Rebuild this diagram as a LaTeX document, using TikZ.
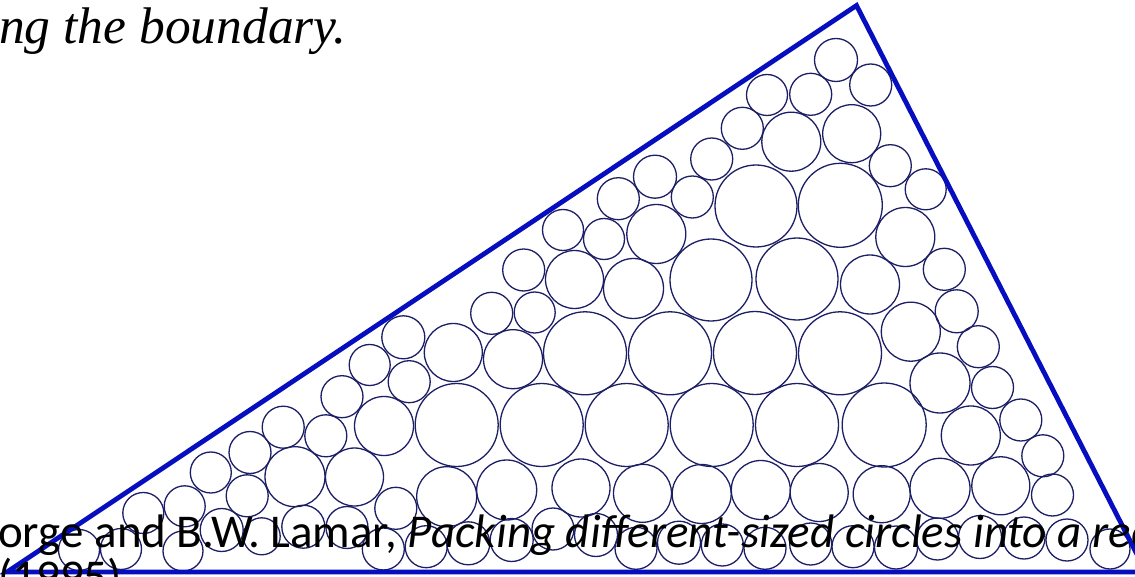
\documentclass[tikz,border=0pt]{standalone}
\usepackage{fontspec}
\setmainfont{Liberation Serif}
\newfontfamily\calib{Carlito}
\definecolor{triblue}{RGB}{6,14,192}
\definecolor{circnavy}{RGB}{28,30,102}
\begin{document}
\begin{tikzpicture}[x=1pt,y=-1pt,
  tri/.style={draw=triblue,line width=4.8pt,line join=miter},
  circ/.style={draw=circnavy,line width=1.3pt},
  toptext/.style={anchor=base west,inner sep=0pt,font=\fontsize{51.5}{60}\selectfont\itshape},
  reftext/.style={anchor=base west,inner sep=0pt,align=left,font=\calib\fontsize{47}{45}\selectfont}]
\path[use as bounding box] (0,0) rectangle (1135,577);
\clip (0,0) rectangle (1135,577);
\fill[white] (0,0) rectangle (1135,577);
\coordinate (A) at (7,572);
\coordinate (C) at (856.5,5.5);
\coordinate (B) at (1146,572);
\foreach \cx/\cy/\r in {
836/60/21.5, 870.7/85/21, 810.7/94.3/21, 767/95/20.5, 791.3/141.7/29.5, 851.7/133.7/29,
890.3/165.7/21, 925.7/189.3/20.5, 840.3/205.3/42, 756/206/41, 742.3/128.3/21, 711.7/159/21,
655/176.7/21.5, 618.3/198.7/21, 692.3/197/21, 656.3/234/29.5, 604/239/20.5, 563/230/20.5,
523.7/270/21, 574.5/279.5/29, 633.5/288.5/30, 711/280/41, 797/279/41, 905.3/237/29.5,
944.3/269.3/21, 870/284.5/29.5,
403.3/337.3/21.5, 369.7/365/20.5, 342/396.7/21, 384/426/29.5, 283.2/427.2/21, 325.8/435.8/21,
250/452.5/21, 210.8/472.5/20.5, 295/476.7/30, 354.5/477/29, 491.7/313.3/21, 534.7/312.5/20.5,
453.3/352.5/29, 513/359.2/29.5, 585/353.3/41.5, 670/353.3/41.5, 755/353/41.5, 409.2/381.7/21,
456.7/425/41.5, 541.7/425/41.5, 626.7/425/41.5, 711.7/425/41.5, 797/425/41.5, 884.2/425/42,
840/353.3/41.5, 956.7/311.3/21.5, 910.8/331.7/29.5, 978.3/346.7/21, 940/383/30, 992.5/387.5/21,
1020.8/420/21, 970.8/435.5/29.5, 1042.8/455.8/21,
446.7/496.7/30, 506.7/490/30, 581/488/29, 642.5/493.3/29, 701.7/494/29.5, 760.8/490/29.5,
819.2/492.5/29, 881.7/494.2/28.5, 940/488.3/30, 1000.8/485.8/29, 1052.5/495/21, 395.8/508.3/21,
247.2/495.8/21, 184.7/506.3/20.5, 143.3/513/20.5,
79/550/20.5, 121/549/20.5, 183/551/20, 221.7/530/21.5, 261.7/536.3/18.5, 303.3/526.7/21.5,
347/527.5/21, 383.3/549/21, 426.2/546.7/21, 468.3/543.3/21.5, 511.7/540/21.5, 553/529/21,
596/535/21.5, 636/548.3/21, 679/542.7/21.5, 722.3/545/21, 765/548.3/21, 810.7/544/21,
853/546.7/21, 896/547.5/21.5, 937.5/539/21, 980/537/21.5, 1024/538/21, 1067/540/21, 1110/549/20}
  \draw[circ] (\cx,\cy) circle[radius=\r pt];
\draw[tri] (A) -- (C) -- (B) -- cycle;
\node[toptext] (title) at (-1,43.5) {ng the boundary.};
\node[reftext] (ref) at (-2,592) {orge and B.W. Lamar, \textit{Packing different-sized circles into a rectangular container}\\(1995).};
\end{tikzpicture}
\end{document}
